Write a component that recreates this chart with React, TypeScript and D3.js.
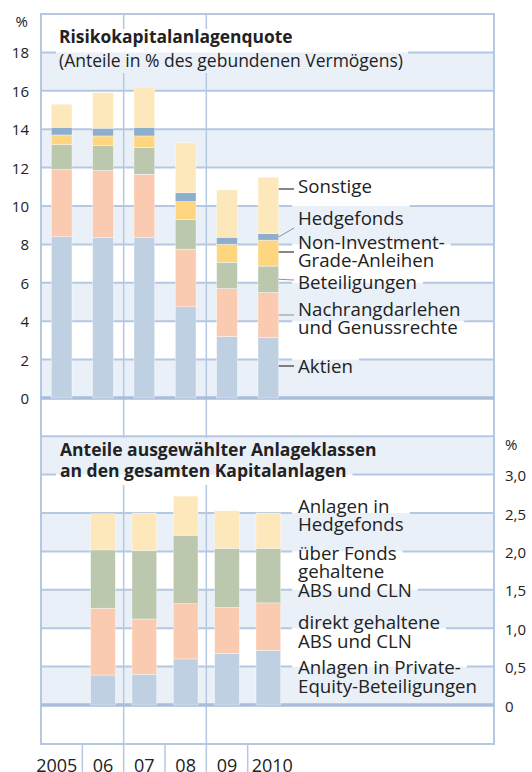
import React, { useEffect, useRef } from 'react';
import * as d3 from 'd3';

// years on the shared x axis
const years = ['2005', '06', '07', '08', '09', '2010'];

// Risikokapitalanlagenquote (% of gebundenes Vermögen), bottom to top
const aktien = [8.4, 8.35, 8.35, 4.75, 3.2, 3.15];
const nachrang = [3.5, 3.5, 3.3, 3.0, 2.5, 2.35];
const beteiligungen = [1.3, 1.3, 1.4, 1.55, 1.37, 1.37];
const nonInvestment = [0.5, 0.5, 0.6, 0.93, 0.94, 1.35];
const hedgefonds = [0.4, 0.4, 0.45, 0.46, 0.36, 0.34];
const sonstige = [1.2, 1.85, 2.1, 2.6, 2.47, 2.94];

// selected asset classes (% of total investments), 2006-2010
const anlageYears = ['06', '07', '08', '09', '2010'];
const privateEquity = [0.39, 0.4, 0.6, 0.67, 0.71];
const direktABS = [0.87, 0.72, 0.72, 0.6, 0.62];
const fondsABS = [0.76, 0.89, 0.89, 0.77, 0.71];
const hedgeAnlagen = [0.47, 0.49, 0.51, 0.49, 0.46];

const leftTicks = [0, 2, 4, 6, 8, 10, 12, 14, 16, 18];
const rightTicks = [0, 0.5, 1, 1.5, 2, 2.5, 3];
const rightTickLabels = ['0', '0,5', '1,0', '1,5', '2,0', '2,5', '3,0'];

const riskKeys = ['aktien', 'nachrang', 'beteiligungen', 'nonInvestment', 'hedgefonds', 'sonstige'];
const riskLabels: Record<string, string[]> = {
  sonstige: ['Sonstige'],
  hedgefonds: ['Hedgefonds'],
  nonInvestment: ['Non-Investment-', 'Grade-Anleihen'],
  beteiligungen: ['Beteiligungen'],
  nachrang: ['Nachrangdarlehen', 'und Genussrechte'],
  aktien: ['Aktien'],
};
const anlageKeys = ['privateEquity', 'direktABS', 'fondsABS', 'hedgeAnlagen'];
const anlageLabels: Record<string, string[]> = {
  hedgeAnlagen: ['Anlagen in', 'Hedgefonds'],
  fondsABS: ['über Fonds', 'gehaltene', 'ABS und CLN'],
  direktABS: ['direkt gehaltene', 'ABS und CLN'],
  privateEquity: ['Anlagen in Private-', 'Equity-Beteiligungen'],
};

const colors: Record<string, string> = {
  aktien: '#bed0e2',
  nachrang: '#facbb0',
  beteiligungen: '#bcc8ae',
  nonInvestment: '#fdd67f',
  hedgefonds: '#8daecd',
  sonstige: '#fde8bc',
  privateEquity: '#bed0e2',
  direktABS: '#facbb0',
  fondsABS: '#bcc8ae',
  hedgeAnlagen: '#fde8bc',
};

const FONT = "'Open Sans', 'Noto Sans', sans-serif";
const GRID = '#b5c8e1';
const BAND = '#eaf0f8';
const TEXT = '#222';

export default function App() {
  const svgRef = useRef<SVGSVGElement>(null);

  useEffect(() => {
    const svg = d3.select(svgRef.current);
    svg.selectAll('*').remove();

    const W = 532, H = 772;
    const frame = { left: 41, right: 494, top: 14, bottom: 744 };

    const x = d3.scaleBand<string>().domain(years).range([41, 289]);
    const yTop = d3.scaleLinear().domain([0, 20]).range([398, 14]);
    const yBot = d3.scaleLinear().domain([0, 3.5]).range([705, 436.2]);

    const defs = svg.append('defs');
    const mask = defs.append('mask')
      .attr('id', 'grid-mask')
      .attr('maskUnits', 'userSpaceOnUse')
      .attr('x', 0).attr('y', 0).attr('width', W).attr('height', H);
    mask.append('rect').attr('width', W).attr('height', H).attr('fill', '#fff');

    const gBands = svg.append('g');
    const gGrid = svg.append('g').attr('mask', 'url(#grid-mask)');
    const gFrame = svg.append('g');
    const gBars = svg.append('g');
    const gLeaders = svg.append('g');
    const gText = svg.append('g').style('font-family', FONT).attr('fill', TEXT);

    // shaded bands
    d3.range(0, 20, 4).forEach(v => {
      gBands.append('rect')
        .attr('x', frame.left).attr('width', frame.right - frame.left)
        .attr('y', yTop(v + 2)).attr('height', yTop(v) - yTop(v + 2))
        .attr('fill', BAND);
    });
    d3.range(0, 3.5, 1).forEach(v => {
      gBands.append('rect')
        .attr('x', frame.left).attr('width', frame.right - frame.left)
        .attr('y', yBot(v + 0.5)).attr('height', yBot(v) - yBot(v + 0.5))
        .attr('fill', BAND);
    });

    // horizontal grid
    const hLine = (y: number, w = 2) => gGrid.append('line')
      .attr('x1', frame.left).attr('x2', frame.right)
      .attr('y1', y).attr('y2', y)
      .attr('stroke', GRID).attr('stroke-width', w);
    d3.range(2, 19, 2).forEach(v => hLine(yTop(v)));
    d3.range(0.5, 3.01, 0.5).forEach(v => hLine(yBot(v)));

    // vertical grid
    ['07', '09'].forEach(yr => {
      gGrid.append('line')
        .attr('x1', x(yr)!).attr('x2', x(yr)!)
        .attr('y1', frame.top).attr('y2', frame.bottom)
        .attr('stroke', GRID).attr('stroke-width', 1.5);
    });

    // frame + zero lines
    gFrame.append('rect')
      .attr('x', frame.left).attr('y', frame.top)
      .attr('width', frame.right - frame.left).attr('height', frame.bottom - frame.top)
      .attr('fill', 'none').attr('stroke', GRID).attr('stroke-width', 2);
    [yTop(0), yBot(0)].forEach(y => {
      gFrame.append('line')
        .attr('x1', frame.left).attr('x2', frame.right)
        .attr('y1', y).attr('y2', y)
        .attr('stroke', '#aabedb').attr('stroke-width', 3.5);
    });
    gFrame.append('line')
      .attr('x1', frame.left).attr('x2', frame.right)
      .attr('y1', yBot(3.5)).attr('y2', yBot(3.5))
      .attr('stroke', GRID).attr('stroke-width', 2);

    // x axis separators
    years.slice(1).forEach(yr => {
      gFrame.append('line')
        .attr('x1', x(yr)!).attr('x2', x(yr)!)
        .attr('y1', frame.bottom).attr('y2', H)
        .attr('stroke', GRID).attr('stroke-width', 1.5);
    });

    // top stacked bars
    const riskSeries: Record<string, number[]> = { aktien, nachrang, beteiligungen, nonInvestment, hedgefonds, sonstige };
    const riskTable = years.map((yr, i) => {
      const row: any = { year: yr };
      riskKeys.forEach(k => { row[k] = riskSeries[k][i]; });
      return row;
    });
    const riskStack = d3.stack<any>().keys(riskKeys)(riskTable);
    const topW = 20.7;
    riskStack.forEach(layer => {
      gBars.selectAll(null)
        .data(layer)
        .enter().append('rect')
        .attr('x', d => x(d.data.year)! + (x.bandwidth() - topW) / 2)
        .attr('width', topW)
        .attr('y', d => yTop(d[1]))
        .attr('height', d => yTop(d[0]) - yTop(d[1]))
        .attr('fill', colors[layer.key])
        .attr('stroke', '#fff').attr('stroke-width', 0.6).attr('stroke-opacity', 0.6);
    });

    // bottom stacked bars
    const anlageSeries: Record<string, number[]> = { privateEquity, direktABS, fondsABS, hedgeAnlagen };
    const anlageTable = anlageYears.map((yr, i) => {
      const row: any = { year: yr };
      anlageKeys.forEach(k => { row[k] = anlageSeries[k][i]; });
      return row;
    });
    const anlageStack = d3.stack<any>().keys(anlageKeys)(anlageTable);
    const botW = 24.7;
    anlageStack.forEach(layer => {
      gBars.selectAll(null)
        .data(layer)
        .enter().append('rect')
        .attr('x', d => x(d.data.year)! + (x.bandwidth() - botW) / 2)
        .attr('width', botW)
        .attr('y', d => yBot(d[1]))
        .attr('height', d => yBot(d[0]) - yBot(d[1]))
        .attr('fill', colors[layer.key])
        .attr('stroke', '#fff').attr('stroke-width', 0.6).attr('stroke-opacity', 0.6);
    });

    // text helpers; every text knocks a hole into the grid
    const knock = (node: SVGTextElement, padL: number, padR: number, top?: number, bottom?: number) => {
      const b = node.getBBox();
      mask.append('rect')
        .attr('x', b.x - padL).attr('width', b.width + padL + padR)
        .attr('y', top ?? b.y).attr('height', (bottom ?? b.y + b.height) - (top ?? b.y))
        .attr('fill', '#000');
    };
    const label = (tx: number, ty: number, s: string, size: number, weight = 'normal') =>
      gText.append('text')
        .attr('x', tx).attr('y', ty)
        .style('font-size', `${size}px`).style('font-weight', weight)
        .text(s);

    // titles
    const t1 = label(59, 43, 'Risikokapitalanlagenquote', 17.4, 'bold');
    knock(t1.node()!, 3, 4, 29, 50);
    const t2 = label(59, 67, '(Anteile in % des gebundenen Vermögens)', 17.5);
    knock(t2.node()!, 3, 5, 50, 73);
    const b1 = label(60, 456, 'Anteile ausgewählter Anlageklassen', 17.5, 'bold');
    knock(b1.node()!, 4, 4, 438, 462);
    const b2 = label(60, 476.5, 'an den gesamten Kapitalanlagen', 17.5, 'bold');
    knock(b2.node()!, 4, 6, 462, 485);

    // left axis
    label(28, 27, '%', 15).attr('text-anchor', 'end');
    leftTicks.forEach(v => {
      label(29, yTop(v) + 6, String(v), 15).attr('text-anchor', 'end');
    });
    // right axis
    label(505, 450, '%', 15);
    rightTicks.forEach((v, i) => {
      label(505, yBot(v) + 6.5, rightTickLabels[i], 15);
    });

    // x axis labels
    years.forEach((yr, i) => {
      const left = x(yr)!, right = left + x.bandwidth();
      const t = label(0, 772, yr, 18);
      if (i === 0) t.attr('x', right - 5).attr('text-anchor', 'end');
      else if (i === years.length - 1) t.attr('x', left + 4);
      else t.attr('x', (left + right) / 2).attr('text-anchor', 'middle');
    });

    // top legend, attached to the 2010 bar
    const legX = 298;
    const legSize = 18.7;
    const lastTop = riskStack.map(l => l[l.length - 1]);
    const barRight = x('2010')! + (x.bandwidth() + topW) / 2;
    const riskBaselines: Record<string, number[]> = {
      sonstige: [192.5],
      hedgefonds: [225],
      nonInvestment: [248.5, 266.5],
      beteiligungen: [288.5],
      nachrang: [315.5, 333.5],
      aktien: [372.5],
    };
    const riskLeaderEnd: Record<string, number> = {
      sonstige: 189, hedgefonds: 228, nonInvestment: 252, beteiligungen: 280, nachrang: 315, aktien: 366,
    };
    riskKeys.forEach((k, i) => {
      riskLabels[k].forEach((s, j) => {
        const t = label(legX, riskBaselines[k][j], s, legSize);
        knock(t.node()!, 6, 6);
      });
      const seg = lastTop[i];
      const endY = riskLeaderEnd[k];
      const startY = k === 'sonstige' || k === 'aktien' ? endY : yTop((seg[0] + seg[1]) / 2);
      const flat = startY === endY || k === 'nonInvestment';
      gLeaders.append('line')
        .attr('x1', barRight).attr('y1', k === 'nonInvestment' ? endY : startY)
        .attr('x2', legX - 4).attr('y2', endY)
        .attr('stroke', flat ? '#222' : '#777')
        .attr('stroke-width', flat ? 1.1 : 0.8);
    });

    // bottom legend
    const anlageBaselines: Record<string, number[]> = {
      hedgeAnlagen: [512.5, 531],
      fondsABS: [560, 578, 596.5],
      direktABS: [629, 647.5],
      privateEquity: [674, 692.5],
    };
    anlageKeys.forEach(k => {
      anlageLabels[k].forEach((s, j) => {
        const t = label(legX, anlageBaselines[k][j], s, legSize);
        knock(t.node()!, 6, 6);
      });
    });
  }, []);

  return (
    <div style={{ position: 'absolute', left: 0, top: 0 }}>
      <svg ref={svgRef} width={532} height={772} style={{ display: 'block', background: '#fff' }} />
    </div>
  );
}
